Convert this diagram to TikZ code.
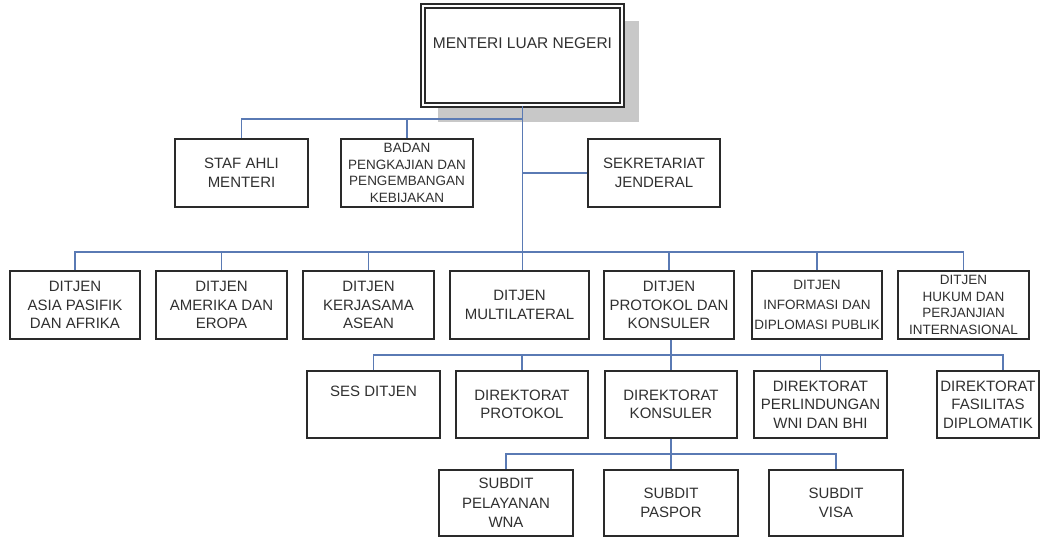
\documentclass[tikz,border=0pt]{standalone}
\usepackage{fontspec}
\setmainfont{Liberation Sans}
\usetikzlibrary{backgrounds,calc}
\definecolor{boxc}{HTML}{2A2A2A}
\definecolor{txtc}{HTML}{303030}
\definecolor{connc}{HTML}{5A7AB4}
\definecolor{shadc}{HTML}{C8C8C8}
\begin{document}
\begin{tikzpicture}[x=1pt,y=-1pt,
  box/.style={draw=boxc, line width=1.7pt, fill=white, inner sep=0pt, align=center,
    text=txtc, font=\fontsize{15}{18.5}\selectfont, minimum height=68pt},
  smalltxt/.style={font=\fontsize{13.5}{16.5}\selectfont},
  conn/.style={draw=connc, line width=1.4pt}]
\useasboundingbox (0,0) rectangle (1060,538);

% top
\node[box, draw=boxc, double=white, double distance=2pt, line width=1.8pt,
  minimum width=199pt, minimum height=99pt, font=\fontsize{15.5}{19}\selectfont]
  (top) at (522.5,55.5) {MENTERI LUAR NEGERI\\ \strut};
\begin{scope}[on background layer]
  \fill[white] (0,0) rectangle (1060,538);
  \fill[shadc] ($(top.north west)+(16,16)$) rectangle ($(top.south east)+(16,16)$);
\end{scope}

% row 2
\node[box, minimum width=133pt] (staf) at (241.5,173) {STAF AHLI\\MENTERI};
\node[box, smalltxt, minimum width=132pt] (badan) at (407,173) {BADAN\\PENGKAJIAN DAN\\PENGEMBANGAN\\KEBIJAKAN};
\node[box, minimum width=132pt] (sekr) at (654,173) {SEKRETARIAT\\JENDERAL};

% row 3
\node[box, minimum width=130pt] (r3a) at (75,305) {DITJEN\\ASIA PASIFIK\\DAN AFRIKA};
\node[box, minimum width=131pt] (r3b) at (221.5,305) {DITJEN\\AMERIKA DAN\\EROPA};
\node[box, minimum width=131pt] (r3c) at (368.5,305) {DITJEN\\KERJASAMA\\ASEAN};
\node[box, minimum width=139pt] (r3d) at (519.5,305) {DITJEN\\MULTILATERAL};
\node[box, minimum width=130pt] (r3e) at (669,305) {DITJEN\\PROTOKOL DAN\\KONSULER};
\node[box, font=\fontsize{13.5}{20}\selectfont, minimum width=130pt] (r3f) at (817,305) {DITJEN\\INFORMASI DAN\\DIPLOMASI PUBLIK};
\node[box, smalltxt, minimum width=131pt] (r3g) at (963.5,305) {DITJEN\\HUKUM DAN\\PERJANJIAN\\INTERNASIONAL};

% row 4
\node[box, minimum width=133pt, minimum height=67pt, font=\fontsize{15}{20}\selectfont] (r4a) at (373.5,404.5) {SES DITJEN\\ \strut};
\node[box, minimum width=132pt, minimum height=67pt] (r4b) at (522,404.5) {DIREKTORAT\\PROTOKOL};
\node[box, minimum width=132pt, minimum height=67pt] (r4c) at (671,404.5) {DIREKTORAT\\KONSULER};
\node[box, minimum width=133pt, minimum height=67pt] (r4d) at (820.5,404.5) {DIREKTORAT\\PERLINDUNGAN\\WNI DAN BHI};
\node[box, minimum width=102pt, minimum height=67pt] (r4e) at (988,404.5) {DIREKTORAT\\FASILITAS\\DIPLOMATIK};

% row 5
\node[box, minimum width=134pt, minimum height=66pt, font=\fontsize{15}{19.5}\selectfont] (r5a) at (506,503) {SUBDIT\\PELAYANAN\\WNA};
\node[box, minimum width=134pt, minimum height=66pt] (r5b) at (671,503) {SUBDIT\\PASPOR};
\node[box, minimum width=134pt, minimum height=66pt] (r5c) at (836,503) {SUBDIT\\VISA};

% bus coordinates
\coordinate (b2) at (522.5,119);
\coordinate (b3) at (522.5,252);
\coordinate (b4) at (671,355);
\coordinate (s4e) at (1003,355);
\coordinate (b5) at (671,454);

% connectors
\draw[conn] (top.south) -- (top.south |- r3d.north);
\draw[conn] (staf.north) |- (b2);
\draw[conn] (badan.north) -- (badan.north |- b2);
\draw[conn] (sekr.west) -- (sekr.west -| b2);

\draw[conn] (r3a.north) |- (r3g.north |- b3) -- (r3g.north);
\draw[conn] (r3b.north) -- (r3b.north |- b3);
\draw[conn] (r3c.north) -- (r3c.north |- b3);
\draw[conn] (r3e.north) -- (r3e.north |- b3);
\draw[conn] (r3f.north) -- (r3f.north |- b3);

\draw[conn] (r3e.south -| r4c.north) -- (r4c.north);
\draw[conn] (r4a.north) |- (s4e) -- (s4e |- r4e.north);
\draw[conn] (r4b.north) -- (r4b.north |- b4);
\draw[conn] (r4d.north) -- (r4d.north |- b4);

\draw[conn] (r4c.south) -- (r5b.north);
\draw[conn] (r5a.north) |- (r5c.north |- b5) -- (r5c.north);
\end{tikzpicture}
\end{document}
